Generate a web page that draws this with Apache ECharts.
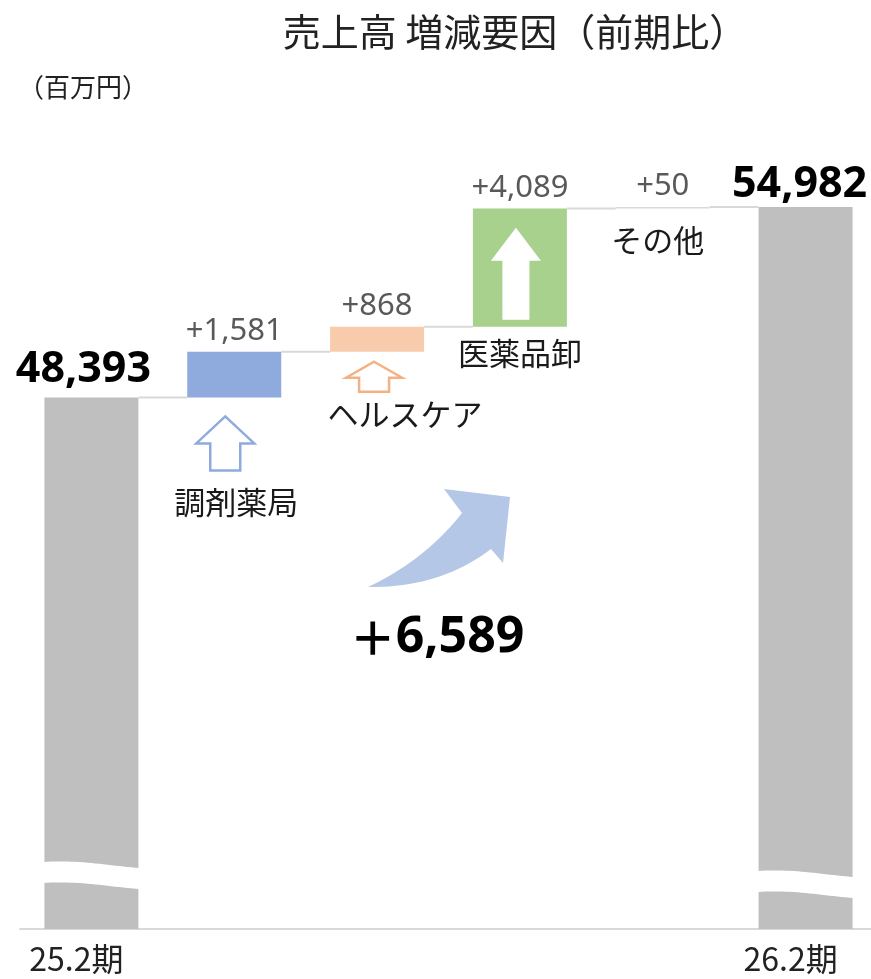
<!DOCTYPE html>
<html>
<head>
<meta charset="utf-8">
<title>売上高 増減要因（前期比）</title>
<script src="https://cdn.jsdelivr.net/npm/echarts@6/dist/echarts.min.js"></script>
<style>
  html, body { margin: 0; padding: 0; background: #fff; }
  #chart { width: 871px; height: 979px; }
</style>
</head>
<body>
<div id="chart"></div>
<script>
// chart values
const categories = ['25.2期', '調剤薬局', 'ヘルスケア', '医薬品卸', 'その他', '26.2期']
const startTotal = 48393
const endTotal = 54982
const deltas = [1581, 868, 4089, 50]
const deltaColors = ['#8faadc', '#f8cbad', '#a9d18e', '#d9d9d9']

const fmt = v => v.toLocaleString('en-US')

// waterfall helpers
const levels = [startTotal]
deltas.forEach(d => levels.push(levels[levels.length - 1] + d))
const totalsData = categories.map((c, i) => {
  if (i === 0) return startTotal
  if (i === categories.length - 1) return endTotal
  return '-'
})
const baseData = categories.map((c, i) => (i > 0 && i <= deltas.length ? levels[i - 1] : '-'))
const deltaData = categories.map((c, i) => {
  if (i > 0 && i <= deltas.length) {
    return { value: deltas[i - 1], itemStyle: { color: deltaColors[i - 1] } }
  }
  return '-'
})
// connectors: level at top of each bar, joined to the next bar
const connectorData = levels.map((v, i) => [i, v])
const noteData = deltas.map((d, i) => [i + 1, levels[i]])

const BAR_W = 94
const FONT_CJK = '"Noto Sans CJK JP", "Noto Sans", sans-serif'
const FONT_NUM = '"Noto Sans", "Open Sans", sans-serif'

const chart = echarts.init(document.getElementById('chart'))

// arrow & label placement for each increment (pixels, relative to bar base)
const noteLayout = {
  1: { arrow: { dx: -9, tip: 19, wing: 46, half: 29, shaft: 15, bottom: 73, fill: '#fff', stroke: '#8faadc' }, text: [2, 105] },
  2: { arrow: { dx: -3, tip: 10, wing: 26, half: 28, shaft: 15, bottom: 40, fill: '#fff', stroke: '#f4b183' }, text: [28, 62] },
  3: { arrow: { dx: -4, tip: -99, wing: -66, half: 25, shaft: 13.5, bottom: -7, fill: '#fff', stroke: null }, text: [0, 27] },
  4: { arrow: null, text: [-5, 32] }
}

function arrowPoints(cx, by, a) {
  return [
    [cx + a.dx, by + a.tip],
    [cx + a.dx + a.half, by + a.wing],
    [cx + a.dx + a.shaft, by + a.wing],
    [cx + a.dx + a.shaft, by + a.bottom],
    [cx + a.dx - a.shaft, by + a.bottom],
    [cx + a.dx - a.shaft, by + a.wing],
    [cx + a.dx - a.half, by + a.wing]
  ]
}

function wavePoints(xl, xr, yTop, drop, thick) {
  const top = []
  const bottom = []
  const n = 24
  for (let k = 0; k <= n; k++) {
    const t = k / n
    const s = t * t * (3 - 2 * t)
    const y = yTop + drop * s - 2 * Math.sin(Math.PI * t)
    top.push([xl + (xr - xl) * t, y])
    bottom.unshift([xl + (xr - xl) * t, y + thick])
  }
  return top.concat(bottom)
}

function quad(p0, c, p1, out) {
  const n = 20
  for (let k = 0; k <= n; k++) {
    const t = k / n
    const u = 1 - t
    out.push([u * u * p0[0] + 2 * u * t * c[0] + t * t * p1[0], u * u * p0[1] + 2 * u * t * c[1] + t * t * p1[1]])
  }
}

// big curved arrow outline
const curvePts = []
quad([368, 587], [425, 560], [462, 513], curvePts)
curvePts.push([444, 489], [510, 497], [503, 563])
quad([491, 549], [440, 588], [368, 587], curvePts)

chart.setOption({
  animation: false,
  title: {
    text: '売上高 増減要因（前期比）',
    left: 510,
    top: 8,
    textAlign: 'center',
    textStyle: { fontFamily: FONT_CJK, fontSize: 38, fontWeight: 'normal', color: '#222' }
  },
  grid: { left: 20, width: 857, top: 62, bottom: 50, outerBoundsMode: 'none' },
  xAxis: {
    type: 'category',
    data: categories,
    axisLine: { lineStyle: { color: '#d9d9d9', width: 2 } },
    axisTick: { show: false },
    axisLabel: {
      interval: 0,
      margin: 14,
      fontFamily: FONT_CJK,
      fontSize: 32,
      color: '#222',
      padding: [0, 30, 0, 0],
      formatter: (v, i) => (i === 0 || i === categories.length - 1 ? v : '')
    }
  },
  yAxis: {
    type: 'value',
    min: 30000,
    max: 60000,
    show: false,
    splitLine: { show: false }
  },
  series: [
    {
      name: 'total',
      type: 'bar',
      barWidth: BAR_W,
      barGap: '-100%',
      itemStyle: { color: '#bfbfbf' },
      data: totalsData.map((v, i) =>
        v === '-'
          ? v
          : {
              value: v,
              label: { offset: i === 0 ? [-8, -4] : [-6, 1] }
            }
      ),
      label: {
        show: true,
        position: 'top',
        distance: 2,
        fontFamily: FONT_NUM,
        fontSize: 43,
        fontWeight: 'bold',
        color: '#000',
        formatter: p => fmt(p.value)
      },
      z: 2
    },
    {
      name: 'base',
      type: 'bar',
      stack: 'w',
      barWidth: BAR_W,
      itemStyle: { color: 'transparent' },
      data: baseData,
      z: 2
    },
    {
      name: 'delta',
      type: 'bar',
      stack: 'w',
      barWidth: BAR_W,
      data: deltaData,
      label: {
        show: true,
        position: 'top',
        distance: 5,
        fontFamily: FONT_NUM,
        fontSize: 31,
        color: '#595959',
        formatter: p => '+' + fmt(p.value)
      },
      z: 2
    },
    {
      name: 'connector',
      type: 'custom',
      data: connectorData,
      z: 1,
      silent: true,
      renderItem: (params, api) => {
        const i = api.value(0)
        if (i >= categories.length - 1) return null
        const p0 = api.coord([i, api.value(1)])
        const p1 = api.coord([i + 1, api.value(1)])
        return {
          type: 'line',
          shape: { x1: p0[0] + BAR_W / 2, y1: p0[1], x2: p1[0] - BAR_W / 2, y2: p1[1] },
          style: { stroke: '#d9d9d9', lineWidth: 2 }
        }
      }
    },
    {
      name: 'break',
      type: 'custom',
      data: [[0], [categories.length - 1]],
      z: 5,
      silent: true,
      renderItem: (params, api) => {
        const i = api.value(0)
        const p = api.coord([i, 30000])
        const lift = i === 0 ? 67 : 58
        const pts = wavePoints(p[0] - BAR_W / 2 - 1, p[0] + BAR_W / 2 + 1, p[1] - lift, 6, 21)
        return { type: 'polygon', shape: { points: pts }, style: { fill: '#fff' } }
      }
    },
    {
      name: 'notes',
      type: 'custom',
      data: noteData,
      z: 6,
      silent: true,
      renderItem: (params, api) => {
        const i = api.value(0)
        const p = api.coord([i, api.value(1)])
        const lay = noteLayout[i]
        const children = []
        if (lay.arrow) {
          children.push({
            type: 'polygon',
            shape: { points: arrowPoints(p[0], p[1], lay.arrow) },
            style: {
              fill: lay.arrow.fill,
              stroke: lay.arrow.stroke || 'none',
              lineWidth: 2.5
            }
          })
        }
        children.push({
          type: 'text',
          x: p[0] + lay.text[0],
          y: p[1] + lay.text[1],
          style: {
            text: categories[i],
            fontFamily: FONT_CJK,
            fontSize: 31,
            fill: '#1a1a1a',
            align: 'center',
            verticalAlign: 'middle'
          }
        })
        return { type: 'group', children: children }
      }
    }
  ],
  graphic: [
    {
      type: 'text',
      x: 18,
      y: 74,
      style: { text: '（百万円）', fontFamily: FONT_CJK, fontSize: 26, fill: '#222' }
    },
    {
      type: 'polygon',
      shape: { points: curvePts },
      style: { fill: '#b4c7e7' }
    },
    {
      type: 'text',
      x: 437,
      y: 638,
      style: {
        text: '{p|＋}{n|' + fmt(endTotal - startTotal) + '}',
        align: 'center',
        verticalAlign: 'middle',
        rich: {
          p: { fontFamily: FONT_CJK, fontSize: 46, fontWeight: 'bold', color: '#000' },
          n: { fontFamily: FONT_NUM, fontSize: 50, fontWeight: 'bold', color: '#000' }
        }
      }
    }
  ]
})
</script>
</body>
</html>
